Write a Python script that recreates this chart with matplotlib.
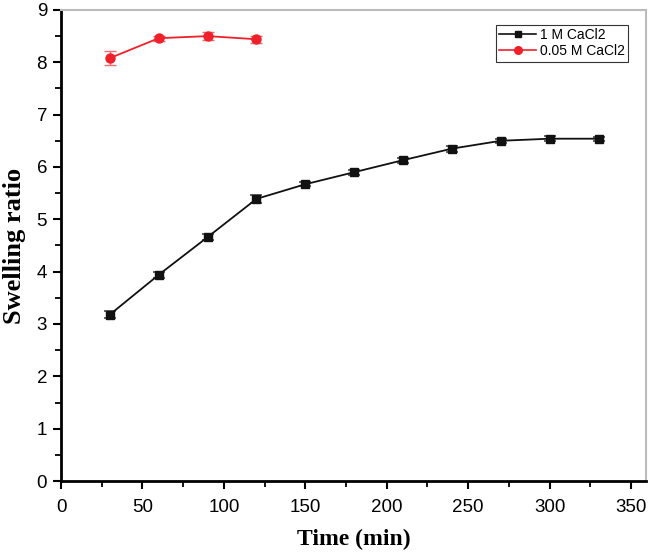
import matplotlib
matplotlib.use("Agg")
import matplotlib.pyplot as plt
from matplotlib.lines import Line2D
from matplotlib.ticker import MultipleLocator

# data
time_1m = [30, 60, 90, 120, 150, 180, 210, 240, 270, 300, 330]
ratio_1m = [3.18, 3.94, 4.66, 5.39, 5.67, 5.90, 6.13, 6.35, 6.50, 6.54, 6.54]
err_1m = [0.07, 0.06, 0.06, 0.07, 0.04, 0.05, 0.05, 0.06, 0.04, 0.05, 0.04]

time_005 = [30, 60, 90, 120]
ratio_005 = [8.08, 8.46, 8.50, 8.44]
err_005 = [0.13, 0.05, 0.08, 0.07]

labels = ["1 M CaCl2", "0.05 M CaCl2"]

BLACK = "#111111"
RED = "#f0202a"

plt.rcParams["font.family"] = ["Liberation Sans", "DejaVu Sans"]

fig = plt.figure(figsize=(6.49, 5.52), dpi=100)
ax = fig.add_axes([0.094, 0.1286, 0.901, 0.8534])

ax.errorbar(time_1m, ratio_1m, yerr=err_1m, color=BLACK, marker="s",
            markersize=5.5, linewidth=1.3, capsize=4.5, capthick=1.3,
            elinewidth=1.2, ecolor="#555555", zorder=3)
ax.errorbar(time_005, ratio_005, yerr=err_005, color=RED, marker="o",
            markersize=6.5, linewidth=1.3, capsize=4.5, elinewidth=1.0,
            ecolor="#f06a70", zorder=3)

ax.set_xlim(0, 359)
ax.set_ylim(0, 9)
ax.xaxis.set_major_locator(MultipleLocator(50))
ax.xaxis.set_minor_locator(MultipleLocator(25))
ax.yaxis.set_major_locator(MultipleLocator(1))
ax.yaxis.set_minor_locator(MultipleLocator(0.5))

ax.tick_params(which="major", direction="out", length=6, width=1.5,
               labelsize=13.5, top=False, right=False)
ax.tick_params(axis="x", which="major", pad=7)
ax.tick_params(axis="y", which="major", pad=4)
ax.tick_params(which="minor", direction="out", length=4, width=1.3,
               top=False, right=False)

for side in ["left", "bottom"]:
    ax.spines[side].set_linewidth(2)
    ax.spines[side].set_color("black")
for side in ["top", "right"]:
    ax.spines[side].set_linewidth(1.5)
    ax.spines[side].set_color("#bbbbbb")

ax.set_xlabel("Time (min)", fontsize=17, fontweight="bold",
              family="Liberation Serif", labelpad=9)
ax.set_ylabel("Swelling ratio", fontsize=19, fontweight="bold",
              family="Liberation Serif", labelpad=8)

handles = [
    Line2D([], [], color=BLACK, marker="s", markersize=5, linewidth=1.2),
    Line2D([], [], color=RED, marker="o", markersize=5.5, linewidth=1.2),
]
leg = ax.legend(handles, labels, loc="upper right", fontsize=10,
                frameon=True, fancybox=False, edgecolor="black",
                handlelength=2.6, handletextpad=0.3, borderpad=0.25,
                labelspacing=0.15, borderaxespad=0,
                bbox_to_anchor=(0.97, 0.969))
leg.get_frame().set_linewidth(0.8)

fig.savefig("out.png", dpi=100)
